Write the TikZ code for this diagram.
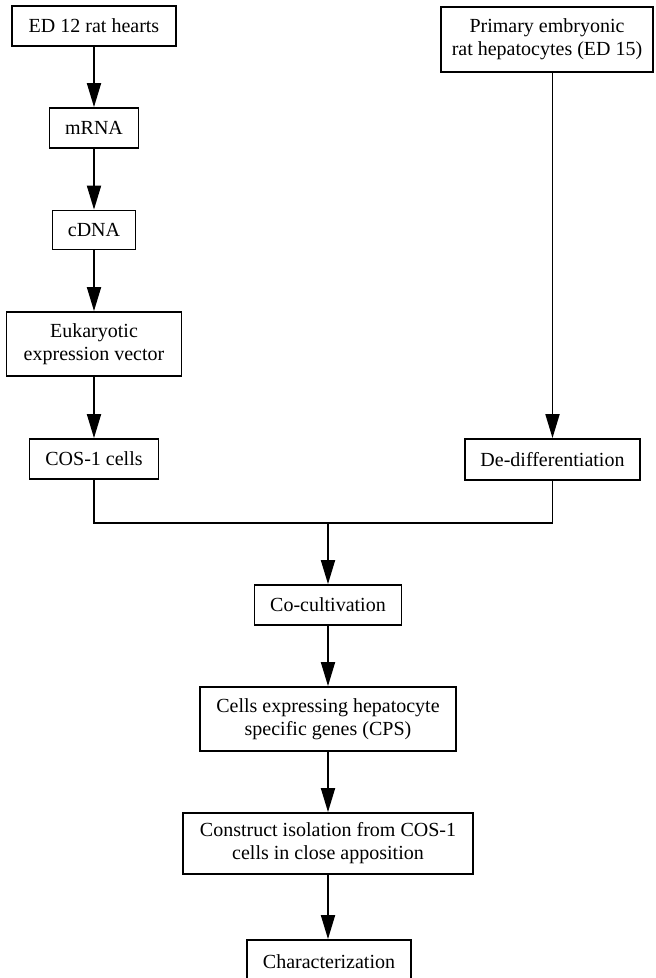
\documentclass[tikz,border=0pt]{standalone}
\usepackage{fontspec}
\setmainfont{Liberation Serif}
\usetikzlibrary{arrows.meta}
\begin{document}
\begin{tikzpicture}[x=1pt,y=-1pt,
 box/.style={draw,line width=1.8pt,inner sep=0pt,align=center,font=\fontsize{20}{23}\selectfont},
 arr/.style={line width=1.8pt,-{Triangle[length=24pt,width=14pt]}},
 ln/.style={line width=1.8pt}]
\useasboundingbox (0,0) rectangle (656,978);
\node[box,minimum width=164pt,minimum height=40pt] (ed) at (94,26) {ED 12 rat hearts};
\node[box,minimum width=89pt,minimum height=40pt] (mrna) at (94,128) {mRNA};
\node[box,minimum width=83pt,minimum height=39pt] (cdna) at (94,230) {cDNA};
\node[box,minimum width=175pt,minimum height=64pt] (euk) at (94,344) {Eukaryotic\\expression vector};
\node[box,minimum width=129pt,minimum height=40pt] (cos) at (94,459) {COS-1 cells};
\node[box,minimum width=212pt,minimum height=65pt] (prim) at (547,39.5) {Primary embryonic\\rat hepatocytes (ED 15)};
\node[box,minimum width=175pt,minimum height=41pt] (ded) at (552.5,459.5) {De-differentiation};
\node[box,minimum width=147pt,minimum height=40pt] (cocult) at (328,605) {Co-cultivation};
\node[box,minimum width=256pt,minimum height=64pt] (cells) at (328,719) {Cells expressing hepatocyte\\specific genes (CPS)};
\node[box,minimum width=290pt,minimum height=61pt] (constr) at (328,843.5) {Construct isolation from COS-1\\cells in close apposition};
\node[box,minimum width=164pt,minimum height=44pt] (char) at (329,962) {Characterization};
\coordinate (j) at (328,523);
\draw[arr] (ed) -- (mrna);
\draw[arr] (mrna) -- (cdna);
\draw[arr] (cdna) -- (euk);
\draw[arr] (euk) -- (cos);
\draw[arr] (prim.south -| ded.north) -- (ded.north);
\draw[ln] (cos.south) |- (j) -| (ded.south);
\draw[arr] (j) -- (cocult);
\draw[arr] (cocult) -- (cells);
\draw[arr] (cells) -- (constr);
\draw[arr] (constr) -- (char.north -| constr.south);
\end{tikzpicture}
\end{document}
